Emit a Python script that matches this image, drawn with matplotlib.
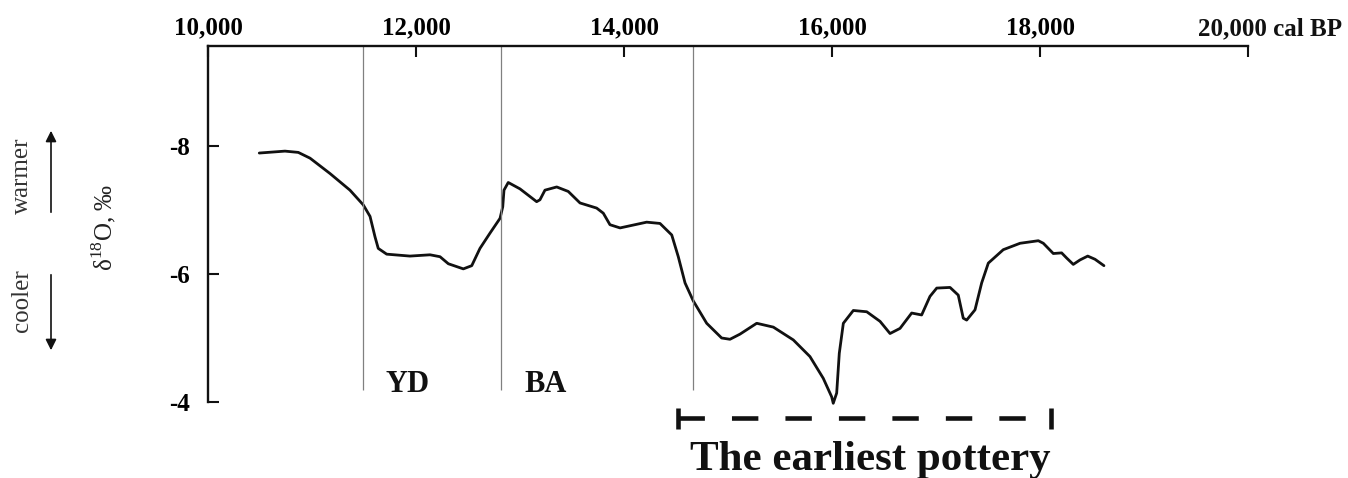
import matplotlib
matplotlib.use('Agg')
import matplotlib.pyplot as plt

plt.rcParams['font.family'] = ['Liberation Serif', 'DejaVu Serif']
plt.rcParams['mathtext.fontset'] = 'custom'
plt.rcParams['mathtext.rm'] = 'Liberation Serif'
plt.rcParams['lines.scale_dashes'] = False

# oxygen isotope curve (cal BP, d18O permil)
years = [10493, 10740, 10868, 10981, 11173, 11365, 11493, 11558, 11606, 11637,
         11718, 11942, 12135, 12231, 12311, 12455, 12536, 12615, 12712, 12808,
         12834, 12846, 12887, 13000, 13160, 13192, 13240, 13353, 13464, 13577,
         13737, 13801, 13865, 13962, 14218, 14346, 14459, 14522, 14587, 14666,
         14795, 14939, 15019, 15115, 15276, 15436, 15628, 15788, 15916, 15997,
         16012, 16045, 16070, 16109, 16205, 16334, 16462, 16558, 16654, 16766,
         16862, 16942, 17007, 17135, 17214, 17262, 17295, 17375, 17439, 17503,
         17647, 17808, 17984, 18032, 18128, 18208, 18256, 18320, 18385, 18459,
         18529, 18615]
d18o = [-7.89, -7.92, -7.90, -7.81, -7.57, -7.31, -7.08, -6.90, -6.58, -6.40,
        -6.31, -6.28, -6.30, -6.27, -6.16, -6.08, -6.13, -6.40, -6.64, -6.87,
        -7.05, -7.31, -7.43, -7.33, -7.13, -7.16, -7.31, -7.36, -7.29, -7.11,
        -7.03, -6.95, -6.77, -6.72, -6.81, -6.79, -6.61, -6.27, -5.86, -5.58,
        -5.23, -5.00, -4.98, -5.06, -5.23, -5.17, -4.97, -4.71, -4.37, -4.08,
        -3.98, -4.14, -4.76, -5.23, -5.43, -5.41, -5.26, -5.07, -5.15, -5.39,
        -5.36, -5.65, -5.78, -5.79, -5.67, -5.31, -5.28, -5.44, -5.86, -6.17,
        -6.38, -6.48, -6.52, -6.48, -6.32, -6.33, -6.25, -6.15, -6.22, -6.28,
        -6.23, -6.13]

x_ticks = [10000, 12000, 14000, 16000, 18000, 20000]
x_labels = ['10,000', '12,000', '14,000', '16,000', '18,000', '']
y_ticks = [-8, -6, -4]
y_labels = ['-8', '-6', '-4']

# period boundaries and labels
boundaries = [11490, 12817, 14663]
periods = ['YD', 'BA']
period_x = [11923, 13250]

# earliest pottery range
pottery_start = 14520
pottery_end = 18110

W, H = 1348, 478
fig = plt.figure(figsize=(W / 100, H / 100), dpi=100)
ax = fig.add_axes([208 / W, 76 / H, 1040 / W, 356 / H])

ax.plot(years, d18o, color='#111111', lw=2.0, clip_on=False,
        solid_joinstyle='round', solid_capstyle='round')
ax.set_xlim(10000, 20000)
ax.set_ylim(-4, -9.5625)

ax.vlines(boundaries, -4.19, -9.5625, color='#808080', lw=0.9)
for name, px in zip(periods, period_x):
    ax.text(px, -4.28, name, ha='center', va='center', fontsize=22,
            fontweight='bold', color='#111111')

# dashed bar for the pottery range
ax.plot([pottery_start, pottery_end], [-3.75, -3.75], color='#111111', lw=3.3,
        linestyle=(0, (19, 19.5)), dash_capstyle='butt', clip_on=False)
ax.vlines([pottery_start, pottery_end], -3.91, -3.58, color='#111111', lw=3.3,
          clip_on=False)

for side in ['right', 'bottom']:
    ax.spines[side].set_visible(False)
for side in ['top', 'left']:
    ax.spines[side].set_linewidth(1.7)
    ax.spines[side].set_color('#111111')

ax.xaxis.tick_top()
ax.set_xticks(x_ticks)
ax.set_xticklabels(x_labels, fontweight='bold')
ax.set_yticks(y_ticks)
ax.set_yticklabels(y_labels, fontweight='bold')
ax.tick_params(axis='x', direction='in', length=8, width=1.5, pad=5,
               labelsize=18, color='#111111')
ax.tick_params(axis='y', direction='in', length=8, width=1.5, pad=13,
               labelsize=18, color='#111111')

fig.text(1198 / W, (H - 35) / H, '20,000 cal BP', ha='left', va='baseline',
         fontsize=18, fontweight='bold', color='#111111')

fig.text(870 / W, 8 / H, 'The earliest pottery', ha='center', va='baseline',
         fontsize=31, fontweight='bold', color='#111111')

fig.text(104 / W, (H - 227) / H, 'δ$^{\\mathrm{18}}$O, ‰', rotation=90,
         ha='center', va='center', fontsize=18, color='#222222')
fig.text(22 / W, (H - 176) / H, 'warmer', rotation=90, ha='center',
         va='center', fontsize=18, color='#333333')
fig.text(22 / W, (H - 301) / H, 'cooler', rotation=90, ha='center',
         va='center', fontsize=18, color='#333333')

arrow = dict(arrowstyle='-|>', lw=1.2, color='#111111', mutation_scale=16)
ax.annotate('', xy=(51 / W, (H - 128) / H), xytext=(51 / W, (H - 215) / H),
            xycoords='figure fraction', textcoords='figure fraction',
            arrowprops=arrow, annotation_clip=False)
ax.annotate('', xy=(51 / W, (H - 353) / H), xytext=(51 / W, (H - 272) / H),
            xycoords='figure fraction', textcoords='figure fraction',
            arrowprops=arrow, annotation_clip=False)

fig.savefig('out.png', dpi=100)
